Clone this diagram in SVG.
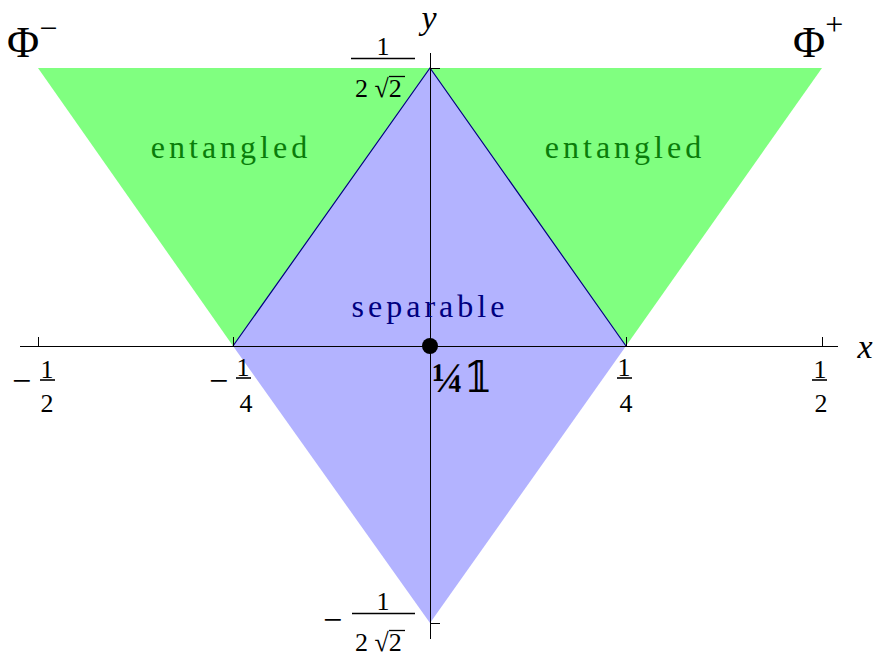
<svg xmlns="http://www.w3.org/2000/svg" width="874" height="657" viewBox="0 0 874 657">
<style>
.t{font-family:"Liberation Serif","Times New Roman","DejaVu Serif",serif;fill:#000}
.it{font-style:italic}
.ax{stroke:#000;stroke-width:1;fill:none}
.lbl{font-family:"Liberation Serif","Times New Roman",serif;font-size:32px;letter-spacing:4px;text-anchor:middle}
.num{font-size:26px;text-anchor:middle}
.mn{font-size:34px}
.bar{stroke:#000;stroke-width:1.6}
.rb{stroke:#000;stroke-width:1.3}
</style>
<rect width="874" height="657" fill="#fff"/>
<g id="regions">
<polygon id="ent-left" points="38,68 430,68 233,346" fill="#80ff80"/>
<polygon id="ent-right" points="430,68 822,68 626,346" fill="#80ff80"/>
<polygon id="sep" points="430,68 626,346 430,623 233,346" fill="#b3b3ff"/>
<polyline points="233,346 430,68 626,346" fill="none" stroke="#000080" stroke-width="1.2"/>
</g>
<g id="axes" class="ax">
<line x1="20" y1="346.5" x2="838" y2="346.5"/>
<line x1="430.5" y1="53" x2="430.5" y2="639"/>
<line x1="38.5" y1="337" x2="38.5" y2="346"/>
<line x1="233.5" y1="337" x2="233.5" y2="346"/>
<line x1="626.5" y1="337" x2="626.5" y2="346"/>
<line x1="822.5" y1="337" x2="822.5" y2="346"/>
<line x1="430" y1="68.5" x2="440" y2="68.5"/>
<line x1="430" y1="623.5" x2="440" y2="623.5"/>
</g>
<g id="labels">
<text class="t it" x="429" y="29" font-size="34" text-anchor="middle">y</text>
<text class="t it" x="865" y="358" font-size="34" text-anchor="middle">x</text>
<text class="t" x="7" y="57" font-size="44">Φ<tspan font-size="32" dy="-18">−</tspan></text>
<text class="t" x="793" y="57" font-size="44">Φ<tspan font-size="32" dy="-22">+</tspan></text>
<!-- top y tick label -->
<text class="t num" x="383" y="55">1</text>
<line class="bar" x1="351" y1="58.5" x2="415" y2="58.5"/>
<text class="t" x="355" y="97" font-size="26">2 √2</text>
<line class="rb" x1="389" y1="76.5" x2="405" y2="76.5"/>
<!-- bottom y tick label -->
<text class="t mn" x="323" y="631">−</text>
<text class="t num" x="383" y="610">1</text>
<line class="bar" x1="352" y1="613.5" x2="415" y2="613.5"/>
<text class="t" x="355" y="651" font-size="26">2 √2</text>
<line class="rb" x1="389" y1="630.5" x2="405" y2="630.5"/>
<!-- x tick labels -->
<text class="t mn" x="12" y="392">−</text>
<text class="t num" x="47" y="378">1</text>
<line class="bar" x1="40" y1="380" x2="55" y2="380"/>
<text class="t num" x="47" y="412">2</text>
<text class="t mn" x="209" y="392">−</text>
<text class="t num" x="243" y="376">1</text>
<line class="bar" x1="236" y1="378" x2="251" y2="378"/>
<text class="t num" x="246" y="412">4</text>
<text class="t num" x="624" y="376">1</text>
<line class="bar" x1="617" y1="378" x2="632" y2="378"/>
<text class="t num" x="626" y="412">4</text>
<text class="t num" x="820" y="378">1</text>
<line class="bar" x1="812" y1="380" x2="827" y2="380"/>
<text class="t num" x="821" y="412">2</text>
<!-- region labels -->
<text class="lbl" x="231" y="158" fill="#0a7d0a">entangled</text>
<text class="lbl" x="625" y="158" fill="#0a7d0a">entangled</text>
<text class="lbl" x="430" y="317" fill="#000080">separable</text>
</g>
<g id="origin">
<circle cx="430" cy="346" r="8" fill="#000"/>
<text x="432" y="392" font-size="42" font-family="'Liberation Serif','DejaVu Serif',serif" font-weight="bold">¼<tspan font-weight="normal" font-family="'DejaVu Serif','DejaVu Sans',serif">𝟙</tspan></text>
</g>
</svg>
